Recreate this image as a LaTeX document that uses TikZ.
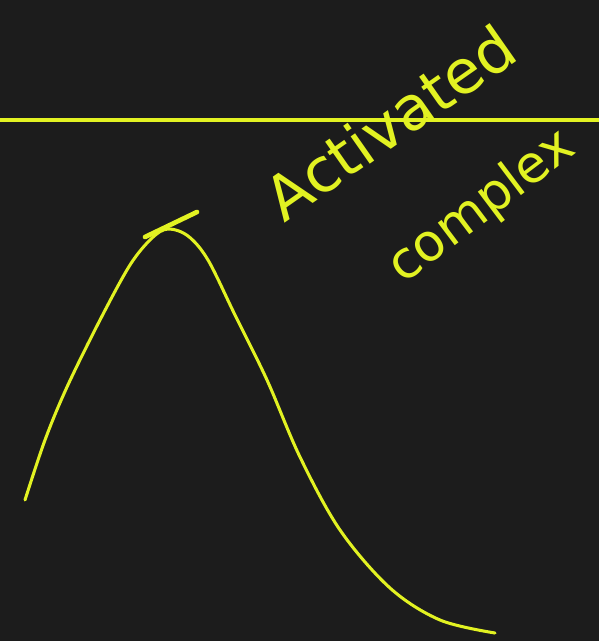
\documentclass[tikz,border=0pt]{standalone}
\usepackage{fontspec}
\setmainfont{DejaVu Sans}
\definecolor{lavagna}{RGB}{28,28,28}
\definecolor{gesso}{RGB}{226,242,34}
\begin{document}
\begin{tikzpicture}[x=0.03cm,y=-0.03cm,
    tratto/.style={draw=gesso,line width=2.6pt,line cap=round,line join=round},
    scritta/.style={text=gesso,font=\fontsize{44}{50}\selectfont,inner sep=0pt}]
        % --- sfondo della lavagna -----------------------------------------
        \fill[lavagna] (0,0) rectangle (599,641);
        \useasboundingbox (0,0) rectangle (599,641);
        % --- livello del complesso attivato -------------------------------
        \draw[tratto,line width=3.4pt,line cap=butt] (0,120) -- (599,120);
        % --- profilo energetico -------------------------------------------
        \draw[tratto] plot[smooth,tension=0.55] coordinates {
            (25,500) (45,440) (67,387) (100,320) (130,265) (152,238) (168,229)
            (188,236) (208,260) (235,315) (267,380) (300,457) (340,530)
            (390,588) (440,620) (495,633)};
        \draw[tratto,line width=4pt] (145,237) -- (197,212);
        % --- etichette ----------------------------------------------------
        \node[scritta,font=\fontsize{52}{58}\selectfont,rotate=35] (attivato) at (390,122) {Activated};
        \node[scritta,rotate=37] (complesso) at (482,207) {complex};
    \end{tikzpicture}
\end{document}
